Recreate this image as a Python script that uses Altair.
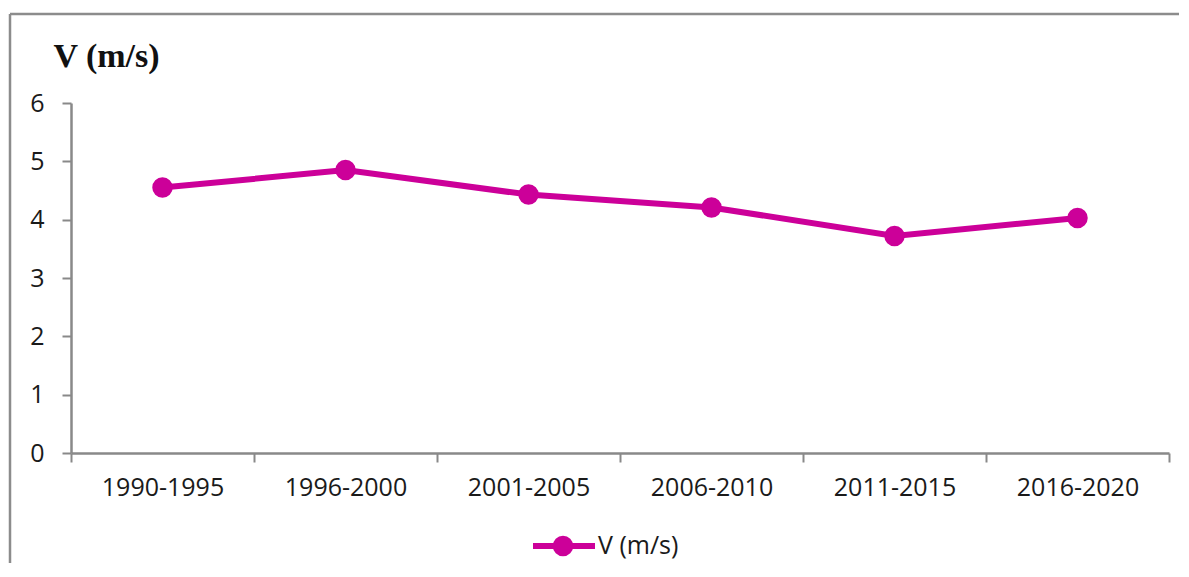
import altair as alt
import pandas as pd

periods = ["1990-1995", "1996-2000", "2001-2005", "2006-2010", "2011-2015", "2016-2020"]
speeds = [4.55, 4.85, 4.43, 4.21, 3.72, 4.03]
series_name = "V (m/s)"

df = pd.DataFrame({"period": periods, "v": speeds})
COLOR = "#CC0099"
GREY = "#898989"
TXT = "#1a1a1a"

x_enc = alt.X("period:N", sort=periods, bandPosition=0.5,
              scale=alt.Scale(type="band", paddingInner=0, paddingOuter=0),
              axis=alt.Axis(title=None, labelAngle=0, tickBand="extent",
                            labelFont="Open Sans", labelFontSize=25, labelColor=TXT,
                            labelPadding=13, tickSize=9, tickWidth=2, tickColor=GREY,
                            domainColor=GREY, domainWidth=2.5, grid=False))
y_enc = alt.Y("v:Q", scale=alt.Scale(domain=[0, 6]),
              axis=alt.Axis(title=series_name, titleAngle=0, titleAlign="left",
                            titleBaseline="alphabetic", titleX=-18, titleY=-37,
                            titleFont="Liberation Serif", titleFontSize=34,
                            titleFontWeight="bold", titleColor="#111",
                            values=[0, 1, 2, 3, 4, 5, 6], labelFont="Open Sans",
                            labelFontSize=25, labelColor=TXT, labelPadding=18,
                            tickSize=9, tickWidth=2, tickColor=GREY,
                            domainColor=GREY, domainWidth=2.5, grid=False))

base = alt.Chart(df).encode(x=x_enc, y=y_enc)
line = base.mark_line(color=COLOR, strokeWidth=6)
points = base.mark_point(color=COLOR, filled=True, opacity=1, size=420, shape="circle")

one = pd.DataFrame({"label": [series_name]})
leg_line = alt.Chart(one).mark_rule(color=COLOR, strokeWidth=6).encode(
    x=alt.value(462), x2=alt.value(524), y=alt.value(443))
leg_pt = alt.Chart(one).mark_point(color=COLOR, filled=True, opacity=1, size=420, shape="circle").encode(
    x=alt.value(492), y=alt.value(443))
leg_txt = alt.Chart(one).mark_text(align="left", baseline="middle", font="Open Sans",
                                   fontSize=25, color=TXT).encode(
    x=alt.value(527), y=alt.value(443), text="label:N")

frame_top = alt.Chart(one).mark_rule(color="#8c8c8c", strokeWidth=2.5).encode(
    x=alt.value(-61), x2=alt.value(1130), y=alt.value(-89))
frame_left = alt.Chart(one).mark_rule(color="#8c8c8c", strokeWidth=2.5).encode(
    x=alt.value(-61), y=alt.value(-89), y2=alt.value(480))

chart = alt.layer(frame_top, frame_left, line, points, leg_line, leg_pt, leg_txt).properties(
    width=1098, height=350,
    background="white",
    autosize=alt.AutoSizeParams(type="none"),
    padding={"left": 63, "top": 95, "right": 10, "bottom": 110},
).configure_view(stroke="transparent", strokeWidth=0)

chart.save("out.html", embed_options={"renderer": "svg", "actions": False})
